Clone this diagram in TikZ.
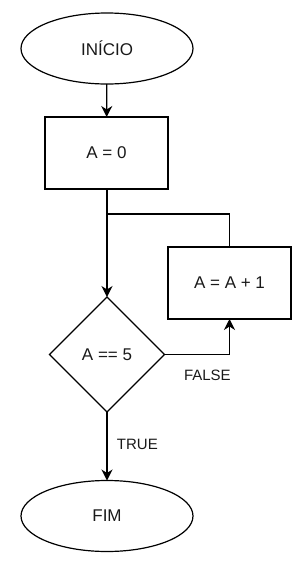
\documentclass[tikz,border=0pt]{standalone}
\usepackage{fontspec}
\setmainfont{Liberation Sans}
\usepackage{tikz}
\usetikzlibrary{arrows.meta, positioning, shapes.geometric}

\begin{document}
\begin{tikzpicture}[
    x=1pt, y=-1pt,
    every node/.style={font=\fontsize{17}{20}\selectfont, text=black!90},
    terminal/.style={ellipse, draw, line width=1.2pt, minimum width=172pt, minimum height=71pt, inner sep=0pt, outer sep=0pt},
    process/.style={rectangle, draw, line width=1.2pt, minimum width=123pt, minimum height=72pt, inner sep=0pt, outer sep=0pt},
    decision/.style={diamond, draw, line width=1.2pt, minimum width=115pt, minimum height=115pt, inner sep=0pt, outer sep=0pt},
    tag/.style={font=\fontsize{15}{18}\selectfont},
    arrow/.style={-{Stealth[length=11pt, width=11pt, inset=3.5pt]}, line width=1.2pt},
    link/.style={line width=1.2pt}
]
\useasboundingbox (0,0) rectangle (297,563);
\node[terminal] (inicio) at (107, 48.5) {INÍCIO};
\node[process] (zero) at (106.5, 153) {A = 0};
\node[decision] (teste) at (107, 354.5) {A == 5};
\node[process] (soma) at (229.5, 283) {A = A + 1};
\node[terminal] (fim) at (107, 516) {FIM};
\coordinate (volta) at (107, 214);
\draw[arrow] (inicio) -- (zero);
\draw[arrow] (zero.south -| teste.north) -- (teste.north);
\draw[link] (soma.north) |- (volta);
\draw[arrow] (teste.east) -| (soma.south) node[pos=0.33, below=12pt, tag] {FALSE};
\draw[arrow] (teste.south) -- (fim.north) node[midway, right=6pt, yshift=2pt, tag] {TRUE};
\end{tikzpicture}
\end{document}
